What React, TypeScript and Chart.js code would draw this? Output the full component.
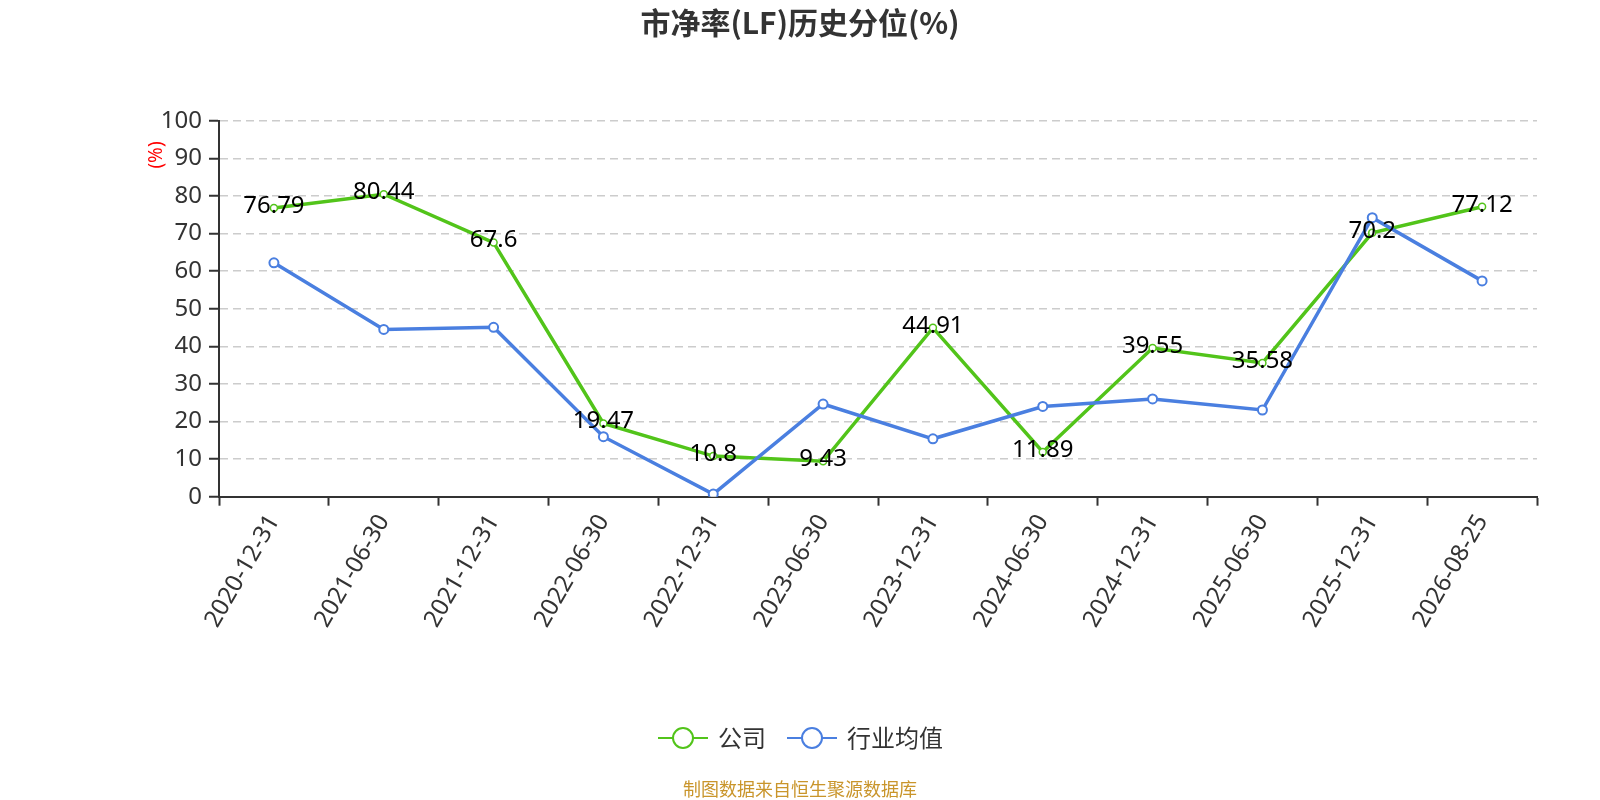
import React, { useEffect, useRef } from 'react';
import { Chart, registerables } from 'chart.js';

Chart.register(...registerables);

// ---- data ----
const categories = [
  '2020-12-31', '2021-06-30', '2021-12-31', '2022-06-30', '2022-12-31', '2023-06-30',
  '2023-12-31', '2024-06-30', '2024-12-31', '2025-06-30', '2025-12-31', '2026-08-25',
];
const companyValues = [76.79, 80.44, 67.6, 19.47, 10.8, 9.43, 44.91, 11.89, 39.55, 35.58, 70.2, 77.12];
const industryValues = [62.2, 44.5, 45.05, 15.96, 0.7, 24.65, 15.4, 24.0, 26.0, 23.06, 74.2, 57.4];
const seriesNames = ['公司', '行业均值'];
const yMin = 0;
const yMax = 100;
const yStep = 10;

const TITLE = '市净率(LF)历史分位(%)';
const Y_TITLE = '(%)';
const SOURCE = '制图数据来自恒生聚源数据库';

const GREEN = '#52c41a';
const BLUE = '#4a7fe0';
const TEXT = '#333333';
const LATIN = '"Noto Sans", "Noto Sans CJK SC", sans-serif';
const CJK = '"Noto Sans CJK SC", "Noto Sans", sans-serif';

const W = 1600;
const H = 800;

const decorPlugin = {
  id: 'decor',
  afterDatasetsDraw(chart: any) {
    const ctx = chart.ctx as CanvasRenderingContext2D;
    const meta = chart.getDatasetMeta(0);
    ctx.save();
    ctx.font = `24px ${LATIN}`;
    ctx.fillStyle = '#000';
    ctx.textAlign = 'center';
    ctx.textBaseline = 'middle';
    meta.data.forEach((pt: any, i: number) => {
      ctx.fillText(String(companyValues[i]), pt.x, pt.y - 2);
    });
    ctx.restore();
  },
  afterDraw(chart: any) {
    const ctx = chart.ctx as CanvasRenderingContext2D;
    ctx.save();
    // title
    ctx.font = `bold 30px ${CJK}`;
    ctx.fillStyle = TEXT;
    ctx.textAlign = 'center';
    ctx.textBaseline = 'middle';
    ctx.fillText(TITLE, W / 2, 23);

    // y axis title
    ctx.save();
    ctx.translate(157, 155);
    ctx.rotate(-Math.PI / 2);
    ctx.font = `19px ${LATIN}`;
    ctx.fillStyle = '#ff0000';
    ctx.textAlign = 'center';
    ctx.textBaseline = 'middle';
    ctx.fillText(Y_TITLE, 0, 0);
    ctx.restore();

    // legend
    const items = [
      { name: seriesNames[0], color: GREEN, x0: 658, textX: 718 },
      { name: seriesNames[1], color: BLUE, x0: 787, textX: 847 },
    ];
    const ly = 738;
    items.forEach((it) => {
      ctx.strokeStyle = it.color;
      ctx.lineWidth = 2;
      ctx.beginPath();
      ctx.moveTo(it.x0, ly);
      ctx.lineTo(it.x0 + 50, ly);
      ctx.stroke();
      ctx.beginPath();
      ctx.arc(it.x0 + 25, ly, 10, 0, Math.PI * 2);
      ctx.fillStyle = '#fff';
      ctx.fill();
      ctx.stroke();
      ctx.font = `24px ${CJK}`;
      ctx.fillStyle = TEXT;
      ctx.textAlign = 'left';
      ctx.textBaseline = 'middle';
      ctx.fillText(it.name, it.textX, ly);
    });

    // source
    ctx.font = `18px ${CJK}`;
    ctx.fillStyle = '#c9952b';
    ctx.textAlign = 'center';
    ctx.textBaseline = 'middle';
    ctx.fillText(SOURCE, W / 2, 789);
    ctx.restore();
  },
};

export default function App() {
  const ref = useRef<HTMLCanvasElement | null>(null);

  useEffect(() => {
    document.body.style.margin = '0';
    if (!ref.current) return;
    const chart = new Chart(ref.current, {
      type: 'line',
      data: {
        labels: categories,
        datasets: [
          {
            label: seriesNames[0],
            data: companyValues,
            borderColor: GREEN,
            backgroundColor: '#ffffff',
            pointBackgroundColor: '#ffffff',
            pointBorderColor: GREEN,
            borderWidth: 3.5,
            pointRadius: 3.5,
            pointBorderWidth: 1.5,
            tension: 0,
            order: 1,
          },
          {
            label: seriesNames[1],
            data: industryValues,
            borderColor: BLUE,
            backgroundColor: '#ffffff',
            pointBackgroundColor: '#ffffff',
            pointBorderColor: BLUE,
            borderWidth: 3.5,
            pointRadius: 4.5,
            pointBorderWidth: 2,
            tension: 0,
            order: 0,
          },
        ],
      },
      options: {
        responsive: false,
        animation: false,
        devicePixelRatio: 1,
        layout: { padding: { left: 139, right: 63, top: 120.7, bottom: 153.3 } },
        plugins: {
          legend: { display: false },
          title: { display: false },
          tooltip: { enabled: false },
        },
        scales: {
          x: {
            type: 'category',
            offset: true,
            afterFit(scale: any) { scale.height = 150; },
            grid: {
              offset: true,
              drawOnChartArea: false,
              drawTicks: true,
              tickLength: 9,
              tickColor: TEXT,
              tickWidth: 2,
              color: TEXT,
            },
            border: { display: true, color: TEXT, width: 2 },
            ticks: {
              autoSkip: false,
              minRotation: 60,
              maxRotation: 60,
              padding: 4,
              color: TEXT,
              font: { size: 24, family: LATIN },
            },
          },
          y: {
            min: yMin,
            max: yMax,
            afterFit(scale: any) { scale.width = 80; },
            grid: {
              color: (c: any) => (c.tick && c.tick.value === 0 ? 'rgba(0,0,0,0)' : '#cccccc'),
              lineWidth: 1.5,
              drawTicks: true,
              tickLength: 10,
              tickColor: TEXT,
              tickWidth: 2,
            },
            border: { display: true, color: TEXT, width: 2, dash: [8, 5] },
            ticks: {
              stepSize: yStep,
              padding: 7,
              color: TEXT,
              font: { size: 24, family: LATIN },
            },
          },
        },
      },
      plugins: [decorPlugin],
    } as any);
    return () => chart.destroy();
  }, []);

  return (
    <div style={{ width: W, height: H }}>
      <canvas ref={ref} width={W} height={H} style={{ display: 'block' }} />
    </div>
  );
}
